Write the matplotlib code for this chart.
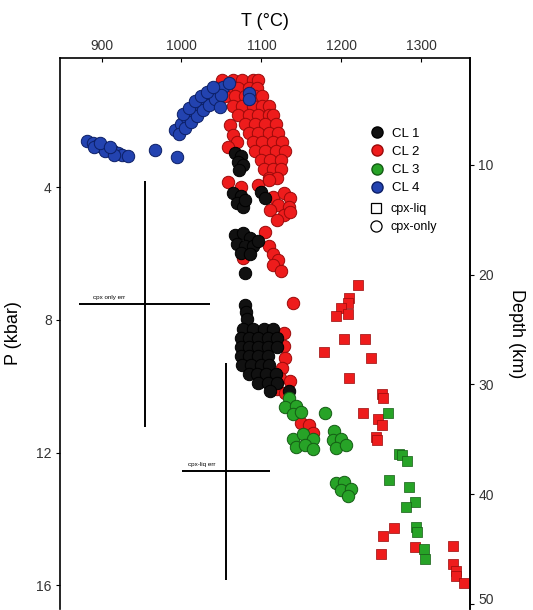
import matplotlib
matplotlib.use("Agg")
import matplotlib.pyplot as plt
from matplotlib.lines import Line2D

plt.rcParams['font.family'] = ['Liberation Sans', 'DejaVu Sans']

# ---- data: T (deg C) and P (kbar) ----
# CL 1 (black), cpx-only
cl1_T = [1067, 1075, 1071, 1077, 1072,
         1065, 1074, 1070, 1077, 1080, 1099, 1105,
         1067, 1077, 1086, 1070, 1080, 1090, 1074, 1086, 1096, 1080,
         1080, 1081, 1082,
         1077, 1090, 1103, 1114,
         1074, 1085, 1096, 1108, 1119,
         1074, 1085, 1096, 1108, 1119,
         1074, 1085, 1096, 1108,
         1076, 1087, 1099, 1110,
         1084, 1095, 1106, 1118,
         1096, 1108, 1119,
         1111, 1134]
cl1_P = [2.97, 3.06, 3.24, 3.33, 3.48,
         4.18, 4.27, 4.48, 4.61, 4.39, 4.15, 4.33,
         5.45, 5.39, 5.52, 5.70, 5.76, 5.76, 5.97, 6.00, 5.61, 6.58,
         7.55, 7.76, 7.97,
         8.27, 8.27, 8.27, 8.27,
         8.55, 8.55, 8.55, 8.55, 8.55,
         8.82, 8.82, 8.82, 8.82, 8.82,
         9.09, 9.09, 9.09, 9.09,
         9.36, 9.36, 9.36, 9.36,
         9.64, 9.64, 9.64, 9.64,
         9.91, 9.91, 9.91,
         10.15, 10.15]

# CL 2 (red), cpx-only
cl2_T = [1051, 1064, 1076, 1089, 1096,
         1046, 1058, 1071, 1084, 1094,
         1055, 1067, 1080, 1092, 1101,
         1064, 1076, 1089, 1101, 1109,
         1071, 1084, 1096, 1109, 1115,
         1080, 1092, 1105, 1118,
         1084, 1096, 1109, 1121,
         1089, 1101, 1114, 1126,
         1092, 1105, 1118, 1130,
         1099, 1111, 1124,
         1103, 1115, 1125,
         1109, 1119,
         1061, 1064, 1070, 1058,
         1058, 1074, 1096, 1109,
         1115, 1128, 1136, 1121, 1134, 1111, 1128, 1120, 1136,
         1105, 1109, 1115, 1121, 1114, 1124, 1077,
         1139,
         1128, 1128, 1130, 1126, 1123, 1136, 1120, 1130,
         1149, 1159, 1165]
cl2_P = [0.76, 0.76, 0.76, 0.76, 0.76,
         1.00, 1.00, 1.00, 1.00, 1.00,
         1.27, 1.27, 1.27, 1.27, 1.27,
         1.55, 1.55, 1.55, 1.55, 1.55,
         1.82, 1.82, 1.82, 1.82, 1.82,
         2.09, 2.09, 2.09, 2.09,
         2.36, 2.36, 2.36, 2.36,
         2.64, 2.64, 2.64, 2.64,
         2.91, 2.91, 2.91, 2.91,
         3.18, 3.18, 3.18,
         3.45, 3.45, 3.45,
         3.73, 3.73,
         2.12, 2.42, 2.64, 2.79,
         3.85, 4.00, 3.94, 3.79,
         4.30, 4.18, 4.33, 4.55, 4.61, 4.70, 4.85, 5.00, 4.76,
         5.36, 5.76, 6.00, 6.21, 6.36, 6.52, 6.15,
         7.48,
         8.39, 8.79, 9.15, 9.45, 9.76, 9.85, 10.09, 10.21,
         11.12, 11.18, 11.42]

# CL 3 (green), cpx-only
cl3_T = [1135, 1130, 1143, 1139, 1149,
         1139, 1152, 1164, 1143, 1155, 1165,
         1179,
         1191, 1189, 1199, 1193, 1206,
         1193, 1203, 1199, 1212, 1208]
cl3_P = [10.36, 10.61, 10.58, 10.82, 10.76,
         11.58, 11.45, 11.58, 11.82, 11.76, 11.88,
         10.79,
         11.36, 11.61, 11.58, 11.85, 11.76,
         12.91, 12.88, 13.12, 13.09, 13.30]

# CL 4 (blue), cpx-only
cl4_T = [882, 889, 895, 901, 908, 914, 920, 926, 933, 891, 904, 916, 898, 910,
         967, 994,
         992, 999, 1007, 1015, 1022, 1030, 1037, 1045, 1052, 1060,
         997, 1004, 1012, 1020, 1027, 1035, 1042, 1050,
         1002, 1009, 1017, 1025, 1032, 1040,
         1048, 1084, 1085]
cl4_P = [2.61, 2.67, 2.73, 2.79, 2.85, 2.91, 2.97, 3.03, 3.06, 2.79, 2.91, 3.03, 2.67, 2.79,
         2.88, 3.09,
         2.27, 2.09, 1.91, 1.73, 1.55, 1.39, 1.24, 1.09, 0.97, 0.85,
         2.39, 2.21, 2.03, 1.85, 1.67, 1.52, 1.36, 1.21,
         1.79, 1.61, 1.42, 1.27, 1.12, 0.97,
         1.58, 1.15, 1.35]

# cpx-liq (squares)
cl2_sq_T = [1221, 1209, 1208, 1199, 1193, 1208, 1203, 1230, 1178, 1237, 1209,
            1251, 1252, 1227, 1246, 1251, 1243, 1245,
            1266, 1252, 1250, 1292, 1340, 1340, 1343, 1344, 1353]
cl2_sq_P = [6.94, 7.33, 7.48, 7.64, 7.88, 7.82, 8.58, 8.58, 8.97, 9.15, 9.76,
            10.24, 10.36, 10.79, 10.97, 11.18, 11.52, 11.61,
            14.27, 14.52, 15.06, 14.85, 14.82, 15.36, 15.55, 15.70, 15.94]
cl3_sq_T = [1258, 1272, 1276, 1282, 1260, 1285, 1292, 1281, 1294, 1295, 1304, 1305]
cl3_sq_P = [10.79, 12.03, 12.06, 12.24, 12.82, 13.03, 13.48, 13.64, 14.24, 14.39, 14.91, 15.21]

# error estimates: centre and half-widths
err_labels = ['cpx only err', 'cpx-liq err']
err_T = [954, 1056]
err_P = [7.52, 12.56]
err_dT = [82, 55]
err_dP = [3.70, 3.27]

COLORS = {
    "CL 1": ("#111111", "#000000"),
    "CL 2": ("#ee1c1c", "#9a0a0a"),
    "CL 3": ("#27a327", "#145c14"),
    "CL 4": ("#2343b0", "#0c1f66"),
}

fig = plt.figure(figsize=(5.33, 6.10), dpi=100)
ax = fig.add_axes([0.1126, 0.0021, 0.7692, 0.9023])

circ = dict(marker='o', s=80, linewidths=0.7)
sq = dict(marker='s', s=45, linewidths=0.5)

ax.scatter(cl2_T, cl2_P, c=COLORS["CL 2"][0], edgecolors=COLORS["CL 2"][1], zorder=2, **circ)
ax.scatter(cl1_T, cl1_P, c=COLORS["CL 1"][0], edgecolors=COLORS["CL 1"][1], zorder=3, **circ)
ax.scatter(cl3_T, cl3_P, c=COLORS["CL 3"][0], edgecolors=COLORS["CL 3"][1], zorder=3, **circ)
ax.scatter(cl4_T, cl4_P, c=COLORS["CL 4"][0], edgecolors=COLORS["CL 4"][1], zorder=4, **circ)
ax.scatter(cl2_sq_T, cl2_sq_P, c=COLORS["CL 2"][0], edgecolors=COLORS["CL 2"][1], zorder=3, **sq)
ax.scatter(cl3_sq_T, cl3_sq_P, c=COLORS["CL 3"][0], edgecolors=COLORS["CL 3"][1], zorder=3, **sq)

# error crosses
ax.errorbar(err_T, err_P, xerr=err_dT, yerr=err_dP, fmt='none',
            ecolor='black', elinewidth=1.4, capsize=0, zorder=1)
for lab, t, p, dt in zip(err_labels, err_T, err_P, err_dT):
    ax.text(t - dt * 0.55, p - 0.12, lab, fontsize=4.5, ha='center', va='bottom')

ax.set_xlim(848, 1361)
ax.set_ylim(16.7, 0.12)

ax.xaxis.tick_top()
ax.xaxis.set_label_position('top')
ax.set_xticks([900, 1000, 1100, 1200, 1300])
ax.set_yticks([4, 8, 12, 16])
ax.tick_params(axis='x', direction='in', length=3, labelsize=10, labelcolor='#333333', pad=4)
ax.tick_params(axis='y', direction='out', length=3, labelsize=10, labelcolor='#333333', pad=3)
ax.set_xlabel('T (°C)', fontsize=13, labelpad=9)
ax.set_ylabel('P (kbar)', fontsize=13, labelpad=10)
ax.spines['bottom'].set_visible(False)
for s in ['left', 'right', 'top']:
    ax.spines[s].set_linewidth(1.2)

# depth axis (about 3 km per kbar)
ax2 = ax.twinx()
ax2.set_ylim(50.43, 0.28)
ax2.set_yticks([10, 20, 30, 40, 50])
ax2.tick_params(axis='y', direction='out', length=3, labelsize=10, labelcolor='#333333', pad=3)
ax2.set_ylabel('Depth (km)', fontsize=13, rotation=270, labelpad=22)
for s in ['left', 'bottom', 'top']:
    ax2.spines[s].set_visible(False)
ax2.spines['right'].set_linewidth(1.2)

# legends
cl_handles = [Line2D([], [], linestyle='none', marker='o', markersize=8,
                     markerfacecolor=COLORS[k][0], markeredgecolor=COLORS[k][1],
                     label=k) for k in ["CL 1", "CL 2", "CL 3", "CL 4"]]
leg1 = ax2.legend(handles=cl_handles, loc='upper left', bbox_to_anchor=(0.741, 0.886),
                  frameon=False, fontsize=9.5, borderpad=0, handlelength=1,
                  handletextpad=0.6, labelspacing=0.45)
ax2.add_artist(leg1)
shape_handles = [
    Line2D([], [], linestyle='none', marker='s', markersize=7, markerfacecolor='white',
           markeredgecolor='black', markeredgewidth=0.9, label='cpx-liq'),
    Line2D([], [], linestyle='none', marker='o', markersize=8, markerfacecolor='white',
           markeredgecolor='black', markeredgewidth=0.9, label='cpx-only'),
]
ax2.legend(handles=shape_handles, loc='upper left', bbox_to_anchor=(0.741, 0.748),
           frameon=False, fontsize=9, borderpad=0, handlelength=1,
           handletextpad=0.6, labelspacing=0.45)

# keep the last depth label inside the canvas
fig.canvas.draw()
ax2.yaxis.get_major_ticks()[-1].label2.set_verticalalignment('baseline')

fig.savefig('out.png', dpi=100)
